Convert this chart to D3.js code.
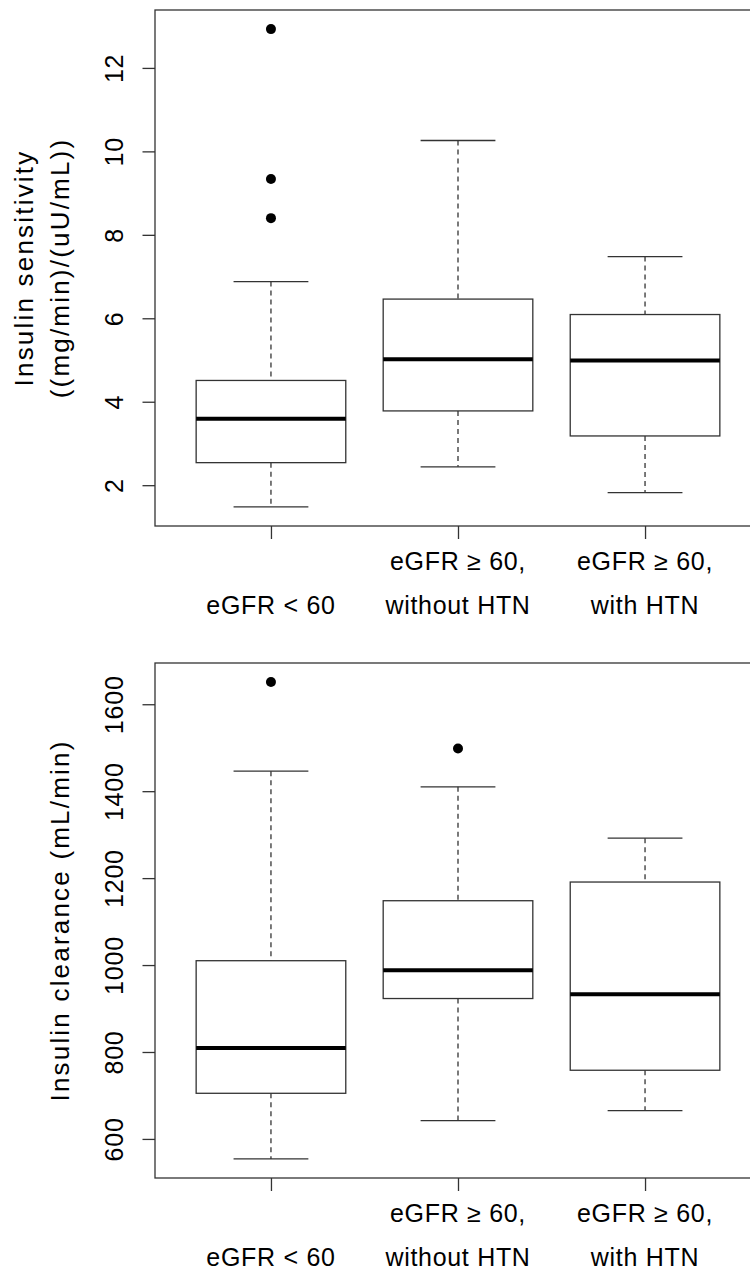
<!DOCTYPE html>
<html>
<head>
<meta charset="utf-8">
<script src="https://cdn.jsdelivr.net/npm/d3@7"></script>
<style>
  body { margin: 0; background: #fff; }
  text { font-family: "Liberation Sans", Arial, sans-serif; fill: #000; }
</style>
</head>
<body>
<svg id="chart" width="750" height="1272"></svg>
<script>
// groups on the x axis, one array of lines per label
var groupLabels = [["eGFR < 60"], ["eGFR \u2265 60,", "without HTN"], ["eGFR \u2265 60,", "with HTN"]];

// insulin sensitivity
var sensLow  = [1.48, 2.44, 1.82];
var sensQ1   = [2.54, 3.78, 3.18];
var sensMed  = [3.59, 5.02, 4.99];
var sensQ3   = [4.51, 6.46, 6.09];
var sensHigh = [6.88, 10.26, 7.48];
var sensOut  = [[12.93, 9.34, 8.40], [], []];
var sensTicks = [2, 4, 6, 8, 10, 12];
var sensTitle = ["Insulin sensitivity", "((mg/min)/(uU/mL))"];

// insulin clearance
var clearLow  = [554, 642, 665];
var clearQ1   = [705, 923, 758];
var clearMed  = [809, 988, 933];
var clearQ3   = [1010, 1148, 1191];
var clearHigh = [1446, 1410, 1292];
var clearOut  = [[1651], [1498], []];
var clearTicks = [600, 800, 1000, 1200, 1400, 1600];
var clearTitle = ["Insulin clearance (mL/min)"];

var svg = d3.select("#chart");
var left = 155, right = 761;
var fs = 25;

// R style x range: 0.5..3.5 padded by 4%
var x = d3.scaleLinear().domain([0.38, 3.62]).range([left, right]);

function panel(top, bottom, low, q1, med, q3, high, out, ticks, title) {
  var all = low.concat(high, d3.merge(out));
  var lo = d3.min(all), hi = d3.max(all), pad = (hi - lo) * 0.04;
  var y = d3.scaleLinear().domain([lo - pad, hi + pad]).range([bottom, top]);

  var g = svg.append("g");
  var rows = groupLabels.map(function(d, i) {
    return {i: i + 1, low: low[i], q1: q1[i], med: med[i], q3: q3[i], high: high[i], out: out[i]};
  });

  var box = g.selectAll(".box").data(rows).enter().append("g");

  // whiskers
  box.append("line")
    .attr("x1", function(d) { return x(d.i); }).attr("x2", function(d) { return x(d.i); })
    .attr("y1", function(d) { return y(d.high); }).attr("y2", function(d) { return y(d.q3); })
    .attr("stroke", "#333").attr("stroke-width", 1.3).attr("stroke-dasharray", "5,4");
  box.append("line")
    .attr("x1", function(d) { return x(d.i); }).attr("x2", function(d) { return x(d.i); })
    .attr("y1", function(d) { return y(d.q1); }).attr("y2", function(d) { return y(d.low); })
    .attr("stroke", "#333").attr("stroke-width", 1.3).attr("stroke-dasharray", "5,4");

  // caps
  ["high", "low"].forEach(function(k) {
    box.append("line")
      .attr("x1", function(d) { return x(d.i - 0.2); }).attr("x2", function(d) { return x(d.i + 0.2); })
      .attr("y1", function(d) { return y(d[k]); }).attr("y2", function(d) { return y(d[k]); })
      .attr("stroke", "#333").attr("stroke-width", 1.3);
  });

  box.append("rect")
    .attr("x", function(d) { return x(d.i - 0.4); })
    .attr("width", function(d) { return x(d.i + 0.4) - x(d.i - 0.4); })
    .attr("y", function(d) { return y(d.q3); })
    .attr("height", function(d) { return y(d.q1) - y(d.q3); })
    .attr("fill", "#fff").attr("stroke", "#333").attr("stroke-width", 1.3);

  box.append("line")
    .attr("x1", function(d) { return x(d.i - 0.4); }).attr("x2", function(d) { return x(d.i + 0.4); })
    .attr("y1", function(d) { return y(d.med); }).attr("y2", function(d) { return y(d.med); })
    .attr("stroke", "#000").attr("stroke-width", 4);

  box.each(function(d) {
    d3.select(this).selectAll("circle").data(d.out).enter().append("circle")
      .attr("cx", x(d.i)).attr("cy", function(v) { return y(v); })
      .attr("r", 5).attr("fill", "#000");
  });

  // frame
  g.append("rect")
    .attr("x", left).attr("y", top).attr("width", right - left).attr("height", bottom - top)
    .attr("fill", "none").attr("stroke", "#333").attr("stroke-width", 1.3);

  // y axis
  var yAxis = d3.axisLeft(y).tickValues(ticks).tickSize(12.5).tickFormat(d3.format("d"));
  var ya = g.append("g").attr("transform", "translate(" + left + ",0)").call(yAxis);
  ya.select(".domain").remove();
  ya.selectAll(".tick line").attr("stroke", "#333").attr("stroke-width", 1.3);
  ya.selectAll(".tick text")
    .attr("x", 0).attr("dy", null).attr("text-anchor", "middle")
    .attr("transform", "translate(-32,0) rotate(-90)")
    .style("font-size", fs + "px").style("letter-spacing", "0.8px")
    .style("font-family", "Liberation Sans, Arial, sans-serif");

  // x axis ticks
  var xAxis = d3.axisBottom(x).tickValues([1, 2, 3]).tickSize(13).tickFormat("");
  var xa = g.append("g").attr("transform", "translate(0," + bottom + ")").call(xAxis);
  xa.select(".domain").remove();
  xa.selectAll(".tick line").attr("stroke", "#333").attr("stroke-width", 1.3);

  // category labels, last line sits at the same baseline for all groups
  groupLabels.forEach(function(lines, i) {
    lines.forEach(function(s, j) {
      g.append("text")
        .attr("x", x(i + 1))
        .attr("y", bottom + 88 - (lines.length - 1 - j) * 44)
        .attr("text-anchor", "middle")
        .style("font-size", fs + "px").style("letter-spacing", "0.7px")
        .text(s);
    });
  });

  // axis title
  var cy = (top + bottom) / 2;
  title.forEach(function(s, j) {
    var bx = 69 - (title.length - 1 - j) * 36;
    g.append("text")
      .attr("transform", "translate(" + bx + "," + cy + ") rotate(-90)")
      .attr("text-anchor", "middle")
      .style("font-size", "26px").style("letter-spacing", "2.2px")
      .text(s);
  });
}

panel(10, 526, sensLow, sensQ1, sensMed, sensQ3, sensHigh, sensOut, sensTicks, sensTitle);
panel(663, 1178, clearLow, clearQ1, clearMed, clearQ3, clearHigh, clearOut, clearTicks, clearTitle);
</script>
</body>
</html>
